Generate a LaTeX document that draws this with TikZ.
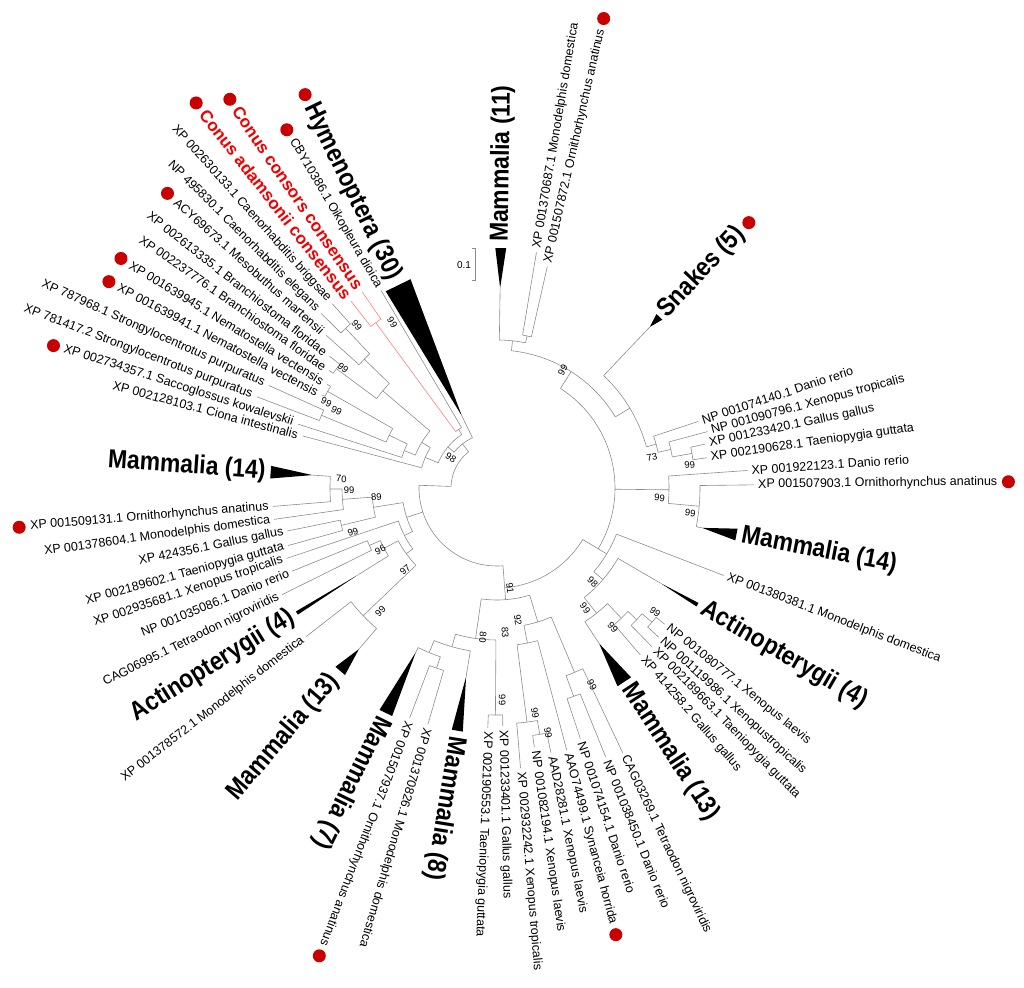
\documentclass[tikz,border=0pt]{standalone}
\usepackage{fontspec}
\setmainfont{Liberation Sans}
\newfontfamily\cladefont{Liberation Sans}[FakeStretch=0.88]
\usetikzlibrary{calc}
\definecolor{dotred}{RGB}{200,0,0}
\definecolor{consred}{RGB}{240,0,0}

\begin{document}
\begin{tikzpicture}[x=1pt, y=1pt,
    branch/.style={draw=black!45, line width=0.6pt},
    redbranch/.style={draw=red!50, line width=0.6pt},
    wedge/.style={fill=black},
    leafR/.style={anchor=west, inner sep=0pt, font=\fontsize{12.5}{14}\selectfont},
    leafL/.style={anchor=east, inner sep=0pt, font=\fontsize{12.5}{14}\selectfont},
    cladeR/.style={anchor=west, inner sep=0pt, font=\cladefont\bfseries\fontsize{26}{28}\selectfont},
    cladeL/.style={anchor=east, inner sep=0pt, font=\cladefont\bfseries\fontsize{26}{28}\selectfont},
    conus/.style={anchor=east, inner sep=0pt, text=consred, font=\bfseries\fontsize{17}{19}\selectfont},
    boot/.style={inner sep=0pt, font=\fontsize{9.5}{11}\selectfont},
    dot/.style={fill=dotred}
]
\useasboundingbox (-497,-499) rectangle (527,488);

% Arcuri (unghi start / unghi final / raza)
\foreach \ang/\angb/\rad in {
    128.05/178/46, 178/274.4/78, 274.4/329/100, 329/417.5/118,
    116/140.1/56, 123.3/156.9/64, 120.4/126.25/70, 148.8/165/78, 139.6/158.05/88,
    135.85/143.4/150, 133.5/138.2/185, 131.8/135.2/220, 141.8/145/200, 153.9/162.2/100,
    150.3/157.5/120, 148.6/152/195, 155.8/159.2/190,
    188.85/207.2/95, 184.2/193.5/125, 180.35/188/155, 176/184.7/167, 191.6/195.4/160,
    198.5/215.9/104, 208.1/223.65/112, 204.25/212/128, 202.1/206.4/140, 217.9/229.4/185,
    261.9/286.95/112, 254.15/269.6/152, 247.6/260.7/165, 243.7/251.45/178, 249.2/253.7/190,
    267.8/271.4/227, 281.1/292.8/140, 277.3/284.9/158, 274.8/279.85/236, 278.2/281.5/250,
    290.2/295.4/200, 288.4/292/222,
    319.15/338.9/128, 308.5/329.8/140, 303.3/313.7/160, 310.65/316.7/180, 314.3/319.1/192,
    317.3/320.9/205,
    -5.15/4/172, -11/0.7/203, 31/84/138, 15.4/46.5/155, 12.5/18.3/165, 10.05/15/178,
    8.2/11.9/198, 78.85/89.1/148, 77.2/80.5/155} {
    \draw[branch] (\ang:\rad) arc[start angle=\ang, end angle=\angb, radius=\rad];
}

% Ramuri radiale (unghi / raza interioara / raza exterioara)
\foreach \ang/\rin/\rout in {
    128.05/46/56, 178/46/78, 198/78/95, 274.4/78/112, 329/100/128, 359.4/118/172, 57.5/118/138,
    116/56/80, 140.1/56/64, 123.3/64/70, 156.9/64/78, 120.4/70/229, 148.8/78/88, 165/78/201,
    139.6/88/150, 158.05/88/100, 135.85/150/185, 143.4/150/200, 133.5/185/220, 138.2/185/229,
    131.8/220/247, 135.2/220/248, 141.8/200/213, 145/200/205, 153.9/100/120, 162.2/100/209,
    150.3/120/195, 157.5/120/190, 148.6/195/199, 152/195/198, 155.8/190/250, 159.2/190/257,
    188.85/95/125, 207.2/95/104, 184.2/125/155, 193.5/125/160, 180.35/155/167, 188/155/225,
    176/167/185, 184.7/167/225, 191.6/160/214, 195.4/160/217, 198.5/104/222, 215.9/104/112,
    208.1/112/128, 223.65/112/185, 204.25/128/140, 212/128/163, 202.1/140/221, 206.4/140/240,
    217.9/185/242, 229.4/185/212,
    261.9/112/152, 286.95/112/140, 254.15/152/165, 269.6/152/227, 247.6/165/178, 260.7/165/191,
    243.7/178/183, 251.45/178/190, 249.2/190/246, 253.7/190/246, 267.8/227/240, 271.4/227/238,
    281.1/140/158, 292.8/140/200, 277.3/158/236, 284.9/158/271, 274.8/236/281, 279.85/236/250,
    278.2/250/262, 281.5/250/270, 290.2/200/222, 295.4/200/293, 288.4/222/264, 292/222/290,
    319.15/128/140, 338.9/128/243, 308.5/140/160, 329.8/140/189, 303.3/160/186, 313.7/160/180,
    310.65/180/220, 316.7/180/192, 314.3/192/222, 319.1/192/205, 317.3/205/220, 320.9/205/216,
    -5.15/172/203, 4/172/251, -11/203/209, 0.7/203/257, 31/138/155, 84/138/148, 15.4/155/165,
    46.5/155/222, 12.5/165/178, 18.3/165/212, 10.05/178/198, 15/178/218, 8.2/198/212,
    11.9/198/213, 78.85/148/155, 89.1/148/200, 77.2/155/227, 80.5/155/239} {
    \draw[branch] (\ang:\rin) -- (\ang:\rout);
}

% Conus (ramuri rosii)
\draw[redbranch] (126.25:70) -- (126.25:205);
\draw[redbranch] (124.5:205) arc[start angle=124.5, end angle=128, radius=205];
\draw[redbranch] (124.5:205) -- (124.5:238);
\draw[redbranch] (128:205) -- (128:237);

% Clade colapsate
\foreach \ang/\rtip/\rbase/\w in {116/80/226/3.5, 176/185/227/1.6, 212/163/236/0.45,
    229.4/212/241/1.5, 243.7/183/251/1.6, 260.7/191/246/1.3, 303.3/186/232/2,
    329.8/189/232/0.5, -11/209/244/1.4, 46.5/222/236/1, 89.1/200/240/1.3} {
    \fill[wedge] (\ang:\rtip) -- (\ang+\w:\rbase) -- (\ang-\w:\rbase) -- cycle;
}

% Frunze, partea dreapta
\foreach \nm/\ang/\rad/\txt in {
    t1/77.2/231/XP 001507872.1 Ornithorhynchus anatinus,
    t2/80.5/243/XP 001370687.1 Monodelphis domestica,
    g7/18.3/216/NP 001074140.1 Danio rerio,
    g6/15/222/NP 001090796.1 Xenopus tropicalis,
    g5/11.9/217/XP 001233420.1 Gallus gallus,
    g4/8.2/216/XP 002190628.1 Taeniopygia guttata,
    g3/4/255/XP 001922123.1 Danio rerio,
    g2/0.7/261/XP 001507903.1 Ornithorhynchus anatinus,
    r7/338.9/247/XP 001380381.1 Monodelphis domestica,
    r5/320.9/220/NP 001080777.1 Xenopus laevis,
    r4/317.3/224/NP 001119986.1 Xenopustropicalis,
    r3/314.3/226/XP 002189663.1 Taeniopygia guttata,
    r2/310.65/224/XP 414258.2 Gallus gallus,
    b13/295.4/297/CAG03269.1 Tetraodon nigroviridis,
    b12/292/294/NP 001038450.1 Danio rerio,
    b11/288.4/268/NP 001074154.1 Danio rerio,
    b10/284.9/275/AAO74499.1 Synanceia horrida,
    b9/281.5/274/AAD28281.1 Xenopus laevis,
    b8/278.2/266/NP 001082194.1 Xenopus laevis,
    b7/274.8/285/XP 002932242.1 Xenopus tropicalis,
    b6/271.4/242/XP 001233401.1 Gallus gallus,
    b5/267.8/244/XP 002190553.1 Taeniopygia guttata,
    b3/253.7/250/XP 001370826.1 Monodelphis domestica,
    b2/249.2/250/XP 001507937.1 Ornithorhynchus anatinus} {
    \node[leafR, rotate=\ang] (\nm) at (\ang:\rad) {\txt};
}
\foreach \nm/\ang/\rad/\txt in {
    t3/89.1/246/Mammalia (11), s1/46.5/240/Snakes (5), g1/-11/249/Mammalia (14),
    r6/329.8/238/Actinopterygii (4), r1/303.3/237/Mammalia (13),
    b4/260.7/252/Mammalia (8), b1/243.7/256/Mammalia (7)} {
    \node[cladeR, rotate=\ang] (\nm) at (\ang:\rad) {\txt};
}

% Frunze, partea stanga (text intors)
\foreach \nm/\ang/\rad/\txt in {
    h2/120.4/233/CBY10386.1 Oikopleura dioica,
    h5/131.8/252/XP 002630133.1 Caenorhabditis briggsae,
    h6/135.2/253/NP 495830.1 Caenorhabditis elegans,
    h7/138.2/234/ACY69673.1 Mesobuthus martensii,
    h8/141.8/218/XP 002613335.1 Branchiostoma floridae,
    h9/145/210/XP 002237776.1 Branchiostoma floridae,
    h10/148.6/204/XP 001639945.1 Nematostella vectensis,
    h11/152/203/XP 001639941.1 Nematostella vectensis,
    h12/155.8/255/XP 787968.1 Strongylocentrotus purpuratus,
    h13/159.2/262/XP 781417.2 Strongylocentrotus purpuratus,
    h14/162.2/214/XP 002734357.1 Saccoglossus kowalevskii,
    h15/165/206/XP 002128103.1 Ciona intestinalis,
    l2/184.7/229/XP 001509131.1 Ornithorhynchus anatinus,
    l3/188/229/XP 001378604.1 Monodelphis domestica,
    l4/191.6/218/XP 424356.1 Gallus gallus,
    l5/195.4/221/XP 002189602.1 Taeniopygia guttata,
    l6/198.5/226/XP 002935681.1 Xenopus tropicalis,
    l7/202.1/225/NP 001035086.1 Danio rerio,
    l8/206.4/244/CAG06995.1 Tetraodon nigroviridis,
    l10/217.9/246/XP 001378572.1 Monodelphis domestica} {
    \node[leafL, rotate=\ang-180] (\nm) at (\ang:\rad) {\txt};
}
\foreach \nm/\ang/\rad/\txt in {
    h1/116/233/Hymenoptera (30), l1/176/232/Mammalia (14),
    l9/212/241/Actinopterygii (4), l11/229.4/249/Mammalia (13)} {
    \node[cladeL, rotate=\ang-180] (\nm) at (\ang:\rad) {\txt};
}
\node[conus, rotate=-55.5] (h3) at (124.5:243) {Conus consors consensus};
\node[conus, rotate=-52] (h4) at (128:242) {Conus adamsonii consensus};

% Puncte rosii
\foreach \nm in {t1, s1, g2, b2, b10} {
    \fill[dot] ($(\nm.east)!-11pt!(\nm.west)$) circle (6.5pt);
}
\foreach \nm in {h1, h2, h3, h4, h7, h10, h11, h14, l2} {
    \fill[dot] ($(\nm.west)!-11pt!(\nm.east)$) circle (6.5pt);
}

% Valori bootstrap
\foreach \ang/\rad/\v [count=\i] in {60.8/135/99, 264.6/150/80, 273.2/145/83, 279/134/92,
    277.4/101/91, 271.4/212/99, 279.6/228/99, 281.8/250/99, 295.7/219/99, 306.3/149/99,
    315.6/134/98, 321.9/201/99, 309.8/181/99, 352.6/195/99, 356.5/163/99, 6.8/194/99,
    11.3/158/73} {
    \node[boot, rotate=\ang] (bsR\i) at (\ang:\rad) {\v};
}
\foreach \ang/\rad/\v [count=\i] in {122.3/196/99, 130.7/215/99, 142.1/195/99, 153.3/191/99,
    154.3/178/99, 146.9/55/98, 176.7/156/70, 180.8/148/99, 184.3/121/89, 197/150.6/99,
    207.9/132/96, 221.7/123/97, 226.7/170/99} {
    \node[boot, rotate=\ang-180] (bsL\i) at (\ang:\rad) {\v};
}

% Scara
\draw[branch] (-25,240) -- (-22,240) -- (-22,208) -- (-25,208);
\node[boot, font=\fontsize{10}{12}\selectfont] (scale) at (-33,223) {0.1};

\end{tikzpicture}
\end{document}
